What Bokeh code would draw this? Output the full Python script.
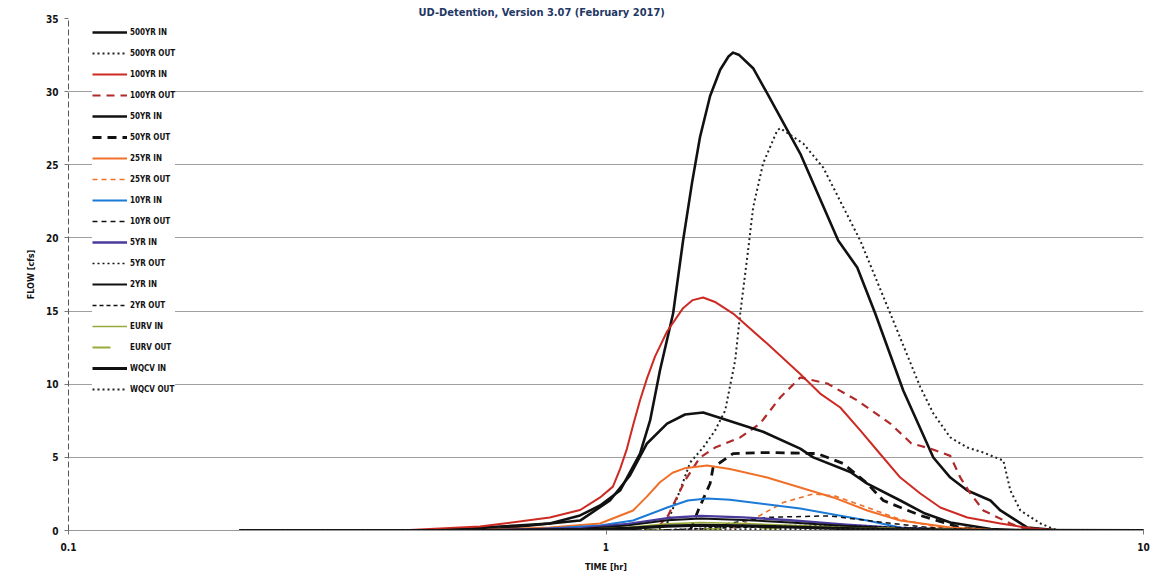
from bokeh.plotting import figure
from bokeh.models import FixedTicker, Legend, LegendItem, Range1d
from bokeh.embed import file_html
from bokeh.resources import INLINE

# ---------------- data (time in hr, flow in cfs) ----------------
t_500_in = [0.208, 0.47, 0.635, 0.786, 0.895, 0.975, 1.062, 1.157, 1.208, 1.26, 1.333, 1.391, 1.446,
            1.496, 1.562, 1.631, 1.69, 1.724, 1.77, 1.878, 1.994, 2.298, 2.704, 2.934, 3.169, 3.573,
            4.064, 4.371, 4.702, 5.19, 5.417, 6.081, 7.0, 10.0]
q_500_in = [0, 0, 0.27, 0.48, 1.03, 1.71, 2.73, 5.26, 7.52, 10.94, 14.83, 19.8, 23.8,
            26.9, 29.7, 31.5, 32.4, 32.67, 32.5, 31.6, 29.9, 25.77, 19.82, 17.98, 14.83, 9.57,
            4.99, 3.62, 2.73, 2.05, 1.37, 0.2, 0, 0]

t_500_out = [0.208, 1.234, 1.299, 1.373, 1.434, 1.516, 1.596, 1.666, 1.739, 1.777, 1.838, 1.878, 1.96,
             2.082, 2.109, 2.328, 2.536, 2.972, 3.38, 3.844, 4.064, 4.371, 4.702, 5.036, 5.487, 5.654,
             5.902, 6.43, 6.918, 10.0]
q_500_out = [0, 0, 0.48, 2.73, 4.65, 5.67, 6.84, 8.2, 11.62, 14.83, 19.14, 22.08, 25.09,
             27.34, 27.5, 26.45, 24.81, 19.82, 14.83, 9.8, 8.0, 6.36, 5.67, 5.33, 4.78, 2.73,
             1.37, 0.48, 0, 0]

t_100_in = [0.208, 0.413, 0.583, 0.786, 0.895, 0.975, 1.03, 1.062, 1.094, 1.123, 1.157, 1.192, 1.234,
            1.299, 1.391, 1.45, 1.516, 1.6, 1.724, 1.994, 2.298, 2.503, 2.728, 2.972, 3.196, 3.528,
            3.844, 4.188, 4.702, 5.417, 6.161, 7.0, 10.0]
q_100_in = [0, 0, 0.27, 0.89, 1.4, 2.26, 3.0, 4.2, 5.6, 7.2, 8.9, 10.4, 11.9,
            13.6, 15.2, 15.75, 15.93, 15.6, 14.83, 12.78, 10.7, 9.36, 8.41, 6.84, 5.47, 3.62,
            2.53, 1.57, 0.89, 0.48, 0.15, 0, 0]

t_100_out = [0.208, 1.234, 1.305, 1.403, 1.496, 1.596, 1.777, 1.935, 2.109, 2.298, 2.58, 2.934, 3.38,
             3.7, 4.012, 4.371, 4.563, 4.763, 5.036, 5.654, 6.161, 10.0]
q_100_out = [0, 0, 1.03, 3.42, 4.99, 5.67, 6.36, 7.31, 9.09, 10.46, 10.05, 8.89, 7.31,
             5.95, 5.6, 5.1, 3.62, 2.53, 1.37, 0.48, 0, 0]

t_50_in = [0.208, 0.47, 0.635, 0.895, 1.017, 1.108, 1.192, 1.299, 1.403, 1.516, 1.66, 1.96, 2.298,
           2.43, 2.847, 3.062, 3.528, 3.9, 4.371, 5.2, 6.0, 10.0]
q_50_in = [0, 0, 0.14, 0.68, 2.05, 3.76, 5.95, 7.31, 7.93, 8.07, 7.6, 6.75, 5.6,
           5.0, 4.0, 3.2, 2.05, 1.2, 0.55, 0.1, 0, 0]

t_50_out = [0.208, 1.434, 1.484, 1.562, 1.582, 1.724, 1.994, 2.472, 2.763, 3.062, 3.28, 3.844, 4.563,
            5.2, 10.0]
q_50_out = [0, 0, 1.37, 3.21, 4.31, 5.26, 5.33, 5.26, 4.58, 3.21, 2.05, 1.03, 0.2,
            0, 0]

t_25_in = [0.208, 0.6, 0.786, 0.975, 1.123, 1.19, 1.26, 1.33, 1.4, 1.542, 1.7, 1.994, 2.647, 3.062,
           3.528, 4.371, 5.5, 10.0]
q_25_in = [0, 0.05, 0.2, 0.48, 1.37, 2.3, 3.3, 3.95, 4.25, 4.44, 4.2, 3.62, 2.26, 1.37,
           0.68, 0.2, 0, 0]

t_25_out = [0.208, 1.7, 1.935, 2.136, 2.43, 2.67, 3.102, 3.528, 4.188, 5.0, 10.0]
q_25_out = [0, 0, 1.03, 1.91, 2.5, 2.35, 1.5, 0.75, 0.2, 0, 0]

t_10_in = [0.208, 0.7, 0.975, 1.123, 1.3, 1.42, 1.542, 1.7, 2.298, 3.062, 3.528, 4.5, 10.0]
q_10_in = [0, 0.03, 0.34, 0.68, 1.57, 2.05, 2.19, 2.1, 1.5, 0.68, 0.2, 0, 0]

t_10_out = [0.208, 1.5, 1.7, 2.0, 2.6, 3.2, 4.0, 5.0, 10.0]
q_10_out = [0, 0, 0.5, 0.9, 1.0, 0.6, 0.2, 0, 0]

t_small_in = [0.208, 0.6, 0.9, 1.1, 1.3, 1.5, 1.8, 2.2, 2.8, 3.5, 4.5, 10.0]
q_5_in = [0, 0.02, 0.15, 0.45, 0.85, 1.0, 0.9, 0.7, 0.4, 0.18, 0.04, 0]
q_2_in = [0, 0.01, 0.1, 0.35, 0.7, 0.82, 0.72, 0.55, 0.3, 0.13, 0.03, 0]
q_eurv_in = [0, 0.01, 0.06, 0.22, 0.45, 0.55, 0.48, 0.36, 0.2, 0.08, 0.02, 0]
q_wqcv_in = [0, 0, 0.04, 0.14, 0.3, 0.36, 0.32, 0.24, 0.13, 0.05, 0.01, 0]

t_small_out = [0.208, 1.2, 1.4, 1.7, 2.2, 3.0, 4.0, 5.0, 6.5, 10.0]
q_5_out = [0, 0, 0.1, 0.25, 0.35, 0.3, 0.15, 0.05, 0, 0]
q_2_out = [0, 0, 0.08, 0.2, 0.28, 0.25, 0.13, 0.04, 0, 0]
q_eurv_out = [0, 0, 0.05, 0.12, 0.17, 0.16, 0.1, 0.04, 0, 0]
q_wqcv_out = [0, 0, 0.03, 0.07, 0.1, 0.1, 0.07, 0.03, 0, 0]

x_ticks = [0.1, 1, 10]
x_tick_labels = ["0.1", "1", "10"]
y_ticks = [0, 5, 10, 15, 20, 25, 30, 35]

# ---------------- styles ----------------
BLACK = "#111111"
RED = "#cc2a22"
RED_D = "#b02a2a"
ORANGE = "#f0702a"
BLUE = "#1a7ad6"
PURPLE = "#4a3a9c"
OLIVE = "#9aaa3a"

series = [
    ("500YR IN", t_500_in, q_500_in, BLACK, 2.6, "solid"),
    ("500YR OUT", t_500_out, q_500_out, "#222222", 2.0, "2 3"),
    ("100YR IN", t_100_in, q_100_in, RED, 2.0, "solid"),
    ("100YR OUT", t_100_out, q_100_out, RED_D, 2.2, "8 6"),
    ("50YR IN", t_50_in, q_50_in, BLACK, 2.6, "solid"),
    ("50YR OUT", t_50_out, q_50_out, BLACK, 2.8, "9 6"),
    ("25YR IN", t_25_in, q_25_in, ORANGE, 2.0, "solid"),
    ("25YR OUT", t_25_out, q_25_out, ORANGE, 1.6, "5 4"),
    ("10YR IN", t_10_in, q_10_in, BLUE, 2.0, "solid"),
    ("10YR OUT", t_10_out, q_10_out, BLACK, 1.5, "5 4"),
    ("5YR IN", t_small_in, q_5_in, PURPLE, 2.4, "solid"),
    ("5YR OUT", t_small_out, q_5_out, BLACK, 1.5, "2 3"),
    ("2YR IN", t_small_in, q_2_in, BLACK, 2.0, "solid"),
    ("2YR OUT", t_small_out, q_2_out, BLACK, 1.6, "4 3"),
    ("EURV IN", t_small_in, q_eurv_in, OLIVE, 1.6, "solid"),
    ("EURV OUT", t_small_out, q_eurv_out, OLIVE, 2.0, "18 40"),
    ("WQCV IN", t_small_in, q_wqcv_in, BLACK, 3.2, "solid"),
    ("WQCV OUT", t_small_out, q_wqcv_out, "#222222", 2.0, "2 3"),
]

FONT = "DejaVu Sans Condensed"

p = figure(width=1167, height=581, x_axis_type="log",
           x_range=Range1d(0.1, 10), y_range=Range1d(0, 35),
           output_backend="svg", toolbar_location=None,
           min_border_left=68, min_border_right=24, min_border_top=18, min_border_bottom=51,
           title="UD-Detention, Version 3.07 (February 2017)")
p.outline_line_color = None
p.background_fill_color = "white"
p.border_fill_color = "white"

p.title.align = "left"
p.title.offset = 350
p.title.standoff = 0
p.title.text_font = FONT
p.title.text_font_style = "bold"
p.title.text_font_size = "11px"
p.title.text_color = "#1f3864"

items = []
for name, t, q, color, w, dash in series:
    r = p.line(t, q, line_color=color, line_width=w, line_dash=dash, line_join="round")
    items.append(LegendItem(label=name, renderers=[r]))

# axes
p.xaxis.ticker = FixedTicker(ticks=x_ticks, minor_ticks=[])
p.xaxis.major_label_overrides = {x: s for x, s in zip(x_ticks, x_tick_labels)}
p.yaxis.ticker = FixedTicker(ticks=y_ticks, minor_ticks=[])
for ax in (p.xaxis, p.yaxis):
    ax.major_label_text_font = FONT
    ax.major_label_text_font_style = "bold"
    ax.major_label_text_font_size = "10px"
    ax.major_label_text_color = "#111111"
    ax.axis_label_text_font = FONT
    ax.axis_label_text_font_style = "bold"
    ax.axis_label_text_font_size = "9px"
    ax.axis_label_text_color = "#111111"
    ax.major_tick_in = 0
    ax.major_tick_out = 4
    ax.minor_tick_in = 0
    ax.minor_tick_out = 0
    ax.major_tick_line_color = "#777777"
p.xaxis.axis_label = "TIME [hr]"
p.yaxis.axis_label = "FLOW [cfs]"
p.xaxis.axis_line_color = "#999999"
p.xaxis.major_label_standoff = 8
p.xaxis.axis_label_standoff = 8
p.yaxis.axis_line_color = "#555555"
p.yaxis.axis_line_dash = "6 3"
p.yaxis.major_label_standoff = 6
p.yaxis.axis_label_standoff = 7

p.xgrid.grid_line_color = None
p.ygrid.ticker = FixedTicker(ticks=y_ticks)
p.ygrid.grid_line_color = "#a0a0a0"
p.ygrid.grid_line_width = 1.2

legend = Legend(items=items, location=(24, 134), orientation="vertical",
                glyph_width=35, glyph_height=14, label_height=14, spacing=7,
                padding=0, margin=0, label_standoff=3,
                label_text_font=FONT, label_text_font_style="bold",
                label_text_font_size="8px", label_text_color="#111111",
                border_line_color=None, background_fill_color="white",
                background_fill_alpha=1.0)
p.add_layout(legend)

open("out.html", "w").write(file_html(p, INLINE))
